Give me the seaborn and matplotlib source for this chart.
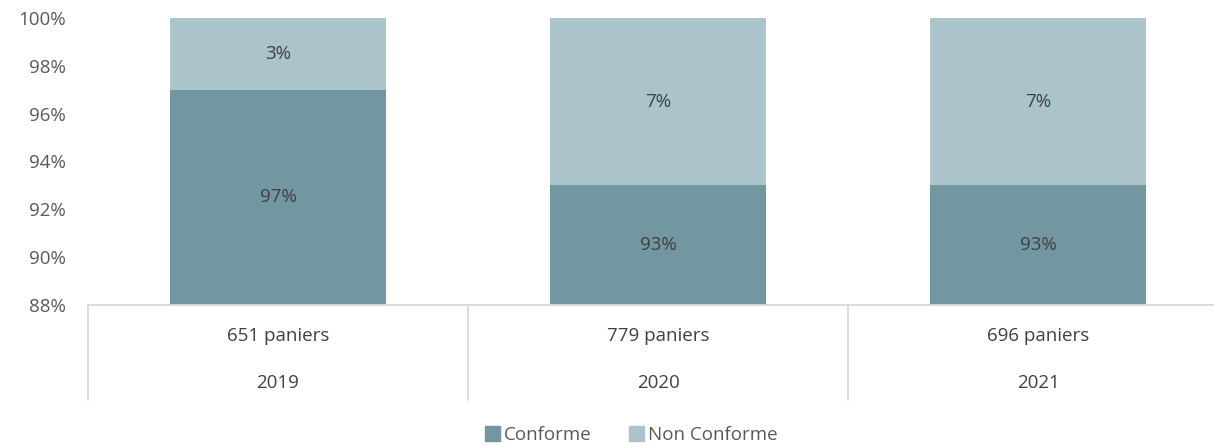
import pandas as pd
import numpy as np
from matplotlib import pyplot as plt
from matplotlib.lines import Line2D
from matplotlib.patches import Patch
import seaborn as sns

years = ["2019", "2020", "2021"]
paniers = ["651 paniers", "779 paniers", "696 paniers"]
conforme = [97, 93, 93]
non_conforme = [3, 7, 7]

DARK = "#7297A0"
LIGHT = "#ABC4CB"
YMIN, YMAX = 88, 100
FS = 13.5

sns.set_theme(style="white")
plt.rcParams['font.family'] = ['Open Sans', 'DejaVu Sans']

df = pd.DataFrame({"year": years, "paniers": paniers,
                   "Conforme": conforme, "Non Conforme": non_conforme})
df["total"] = df["Conforme"] + df["Non Conforme"]

fig = plt.figure(figsize=(12.14, 4.46), dpi=100)
ax = fig.add_axes([88/1214, 1-305/446, 1140/1214, 287/446])

sns.barplot(data=df, x="year", y="total", color=LIGHT, width=0.57, saturation=1,
            linewidth=0, edgecolor="none", ax=ax)
sns.barplot(data=df, x="year", y="Conforme", color=DARK, width=0.57, saturation=1,
            linewidth=0, edgecolor="none", ax=ax)

ax.set_ylim(YMIN, YMAX)
ax.set_xlim(-0.5, 2.5)
ax.set_yticks(np.arange(88, 101, 2))
ax.set_yticklabels([f"{v}%" for v in range(88, 101, 2)], fontsize=FS, color="#595959")
ax.tick_params(axis="y", length=0, pad=16)
ax.set_xticks([])
ax.set_xlabel("")
ax.set_ylabel("")
for s in ["top", "right", "left"]:
    ax.spines[s].set_visible(False)
ax.spines["bottom"].set_color("#D9D9D9")
ax.spines["bottom"].set_linewidth(1.3)

# data labels
for i, row in df.iterrows():
    c, t = row["Conforme"], row["total"]
    ax.text(i, (max(YMIN, 0) + c) / 2, f"{c}%", ha="center", va="center",
            fontsize=FS, color="#404040")
    ax.text(i, (c + t) / 2, f"{row['Non Conforme']}%", ha="center", va="center",
            fontsize=FS, color="#404040")

# multi-level category axis
tr = ax.get_xaxis_transform()
for i in range(len(years)):
    ax.text(i, -0.107, paniers[i], transform=tr, ha="center", va="center",
            fontsize=FS, color="#404040")
    ax.text(i, -0.272, years[i], transform=tr, ha="center", va="center",
            fontsize=FS, color="#404040")
for xs in np.arange(-0.5, len(years), 1.0):
    ax.add_line(Line2D([xs, xs], [0, -0.33], transform=tr, color="#D9D9D9",
                       lw=1.3, clip_on=False))

handles = [Patch(color=DARK, label="Conforme"), Patch(color=LIGHT, label="Non Conforme")]
fig.legend(handles=handles, loc="center", bbox_to_anchor=(631/1214, 1-435/446),
           ncol=2, frameon=False, fontsize=FS, handlelength=0.8, handleheight=0.8,
           handletextpad=0.2, columnspacing=2.0, labelcolor="#595959")

fig.savefig("out.png", dpi=100)
